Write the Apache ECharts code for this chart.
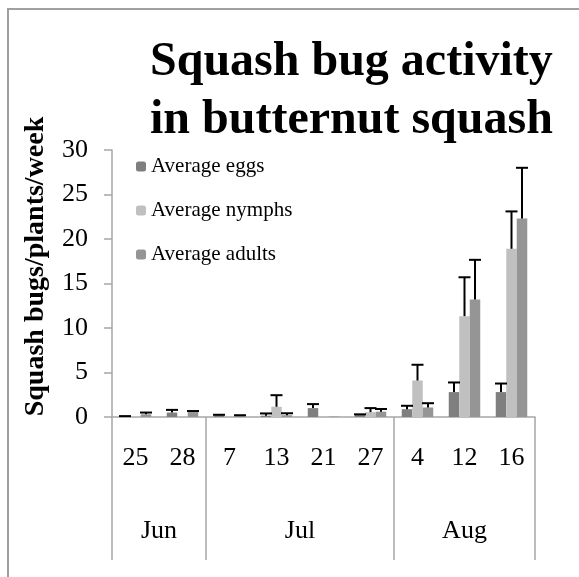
<!DOCTYPE html>
<html>
<head>
<meta charset="utf-8">
<script src="https://cdn.jsdelivr.net/npm/echarts@6/dist/echarts.min.js"></script>
<style>html,body{margin:0;padding:0;background:#fff;}#c{width:579px;height:577px;}</style>
</head>
<body>
<div id="c"></div>
<script>
var days = ['25', '28', '7', '13', '21', '27', '4', '12', '16'];
var months = ['Jun', 'Jul', 'Aug'];
var monthCenters = [1, 4, 7.5];
var monthBounds = [0, 2, 6, 9];
var eggs = [0.05, 0.5, 0.2, 0.15, 1.0, 0.25, 0.88, 2.8, 2.8];
var eggsErr = [0.05, 0.3, 0.05, 0.25, 0.45, 0.05, 0.38, 1.08, 0.96];
var nymphs = [0.05, 0.1, 0.02, 1.15, 0.05, 0.55, 4.1, 11.33, 18.9];
var nymphsErr = [0, 0, 0, 1.3, 0, 0.45, 1.77, 4.37, 4.2];
var adults = [0.3, 0.55, 0.15, 0.2, 0.05, 0.6, 1.07, 13.2, 22.3];
var adultsErr = [0.2, 0.12, 0.05, 0.22, 0, 0.3, 0.48, 4.46, 5.7];
var yTicks = [0, 5, 10, 15, 20, 25, 30];

var FONT = 'Liberation Serif, Times New Roman, serif';
var AX = '#a6a6a6';
var BW = 10.5;
var colors = ['#7f7f7f', '#c0c0c0', '#959595'];
var names = ['Average eggs', 'Average nymphs', 'Average adults'];
var vals = [eggs, nymphs, adults];
var errs = [eggsErr, nymphsErr, adultsErr];

var series = [];
for (var s = 0; s < 3; s++) {
  series.push({
    name: names[s], type: 'bar', xAxisIndex: 0, yAxisIndex: 0,
    data: vals[s], barWidth: BW, barGap: '0%',
    itemStyle: { color: colors[s] }, z: 2
  });
}
for (var s2 = 0; s2 < 3; s2++) {
  (function (k) {
    var d = vals[k].map(function (v, i) { return [i, v, errs[k][i]]; });
    series.push({
      type: 'custom', xAxisIndex: 0, yAxisIndex: 0, z: 5, silent: true,
      encode: { x: 0, y: 1 },
      data: d,
      renderItem: function (params, api) {
        var i = api.value(0), v = api.value(1), e = api.value(2);
        if (!(e > 0)) return null;
        var b = api.coord([i, v]);
        var t = api.coord([i, v + e]);
        var x = b[0] + (k - 1) * BW;
        var st = { stroke: '#000', lineWidth: 2 };
        return {
          type: 'group', children: [
            { type: 'line', shape: { x1: x, y1: b[1], x2: x, y2: t[1] }, style: st },
            { type: 'line', shape: { x1: x - 6, y1: t[1], x2: x + 6, y2: t[1] }, style: st }
          ]
        };
      }
    });
  })(s2);
}

var chart = echarts.init(document.getElementById('c'), null, { renderer: 'canvas' });
chart.setOption({
  animation: false,
  backgroundColor: '#fff',
  title: {
    text: 'Squash bug activity\nin butternut squash',
    left: 150, top: 34, padding: 0,
    textStyle: { fontFamily: FONT, fontSize: 48, fontWeight: 'bold', color: '#000', lineHeight: 58 }
  },
  legend: {
    data: names, orient: 'vertical', left: 136, top: 156, padding: 0,
    itemWidth: 10, itemHeight: 10, itemGap: 23,
    textStyle: { fontFamily: FONT, fontSize: 21, color: '#000' }
  },
  graphic: [{
    type: 'rect', shape: { x: 8, y: 9, width: 620, height: 620 },
    style: { fill: null, stroke: '#a0a0a0', lineWidth: 2 }, silent: true
  }],
  grid: { left: 112, right: 44, top: 150, bottom: 160, containLabel: false },
  xAxis: [{
    type: 'category', data: days, position: 'bottom',
    axisLine: { lineStyle: { color: AX, width: 1.5 } },
    axisTick: { show: false },
    axisLabel: { fontFamily: FONT, fontSize: 26, color: '#000', margin: 28, interval: 0 },
    splitLine: { show: false }
  }, {
    type: 'value', min: 0, max: 9, position: 'bottom',
    axisLine: { show: false },
    axisTick: { show: true, customValues: monthBounds, length: 143, lineStyle: { color: AX, width: 1.5 } },
    axisLabel: {
      customValues: monthCenters, fontFamily: FONT, fontSize: 26, color: '#000', margin: 101,
      formatter: function (v) { var i = monthCenters.indexOf(v); return i >= 0 ? months[i] : ''; }
    },
    splitLine: { show: false }
  }],
  yAxis: [{
    type: 'value', min: yTicks[0], max: yTicks[yTicks.length - 1], interval: 5,
    name: 'Squash bugs/plants/week', nameLocation: 'middle', nameGap: 62,
    nameTextStyle: { fontFamily: FONT, fontSize: 28, fontWeight: 'bold', color: '#000', padding: [0, 0, 0, 34] },
    axisLine: { show: true, lineStyle: { color: AX, width: 1.5 } },
    axisTick: { show: true, length: 8, lineStyle: { color: AX, width: 1.5 } },
    axisLabel: { fontFamily: FONT, fontSize: 26, color: '#000', margin: 24 },
    splitLine: { show: false }
  }],
  series: series
});
</script>
</body>
</html>
